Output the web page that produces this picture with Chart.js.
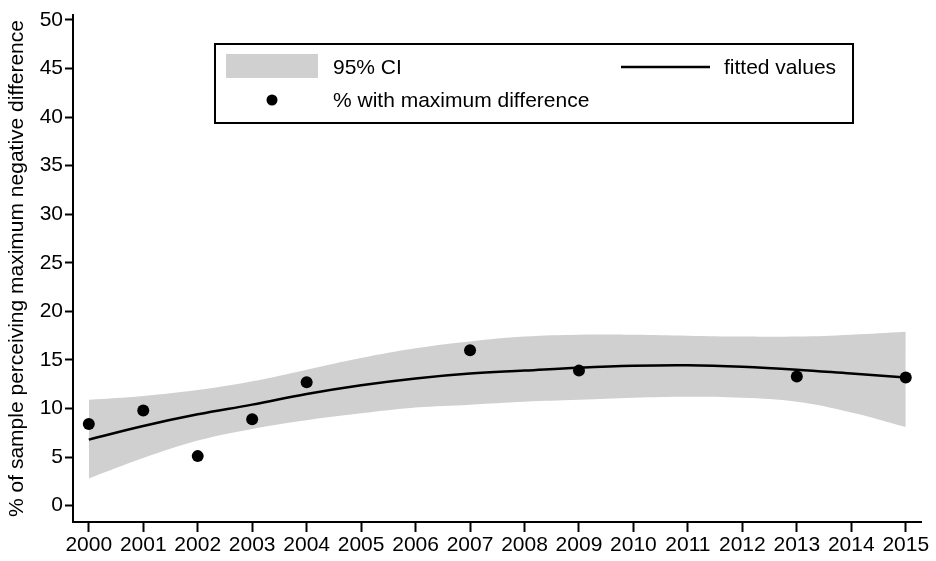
<!DOCTYPE html>
<html>
<head>
<meta charset="utf-8">
<script src="https://cdn.jsdelivr.net/npm/chart.js@4/dist/chart.umd.min.js"></script>
<style>
  html, body { margin: 0; padding: 0; background: #fff; }
  #wrap { width: 936px; height: 561px; }
</style>
</head>
<body>
<div id="wrap"><canvas id="chart"></canvas></div>
<script>
// fitted curve and 95% CI, one value per year
const years = [2000, 2001, 2002, 2003, 2004, 2005, 2006, 2007, 2008, 2009, 2010, 2011, 2012, 2013, 2014, 2015];
const fitted = [6.8, 8.2, 9.4, 10.4, 11.5, 12.4, 13.1, 13.6, 13.9, 14.2, 14.4, 14.45, 14.3, 14.0, 13.6, 13.2];
const ciUpper = [10.9, 11.3, 11.9, 12.8, 14.0, 15.2, 16.2, 16.9, 17.4, 17.6, 17.6, 17.5, 17.4, 17.4, 17.6, 17.9];
const ciLower = [2.8, 4.9, 6.7, 7.9, 8.8, 9.5, 10.1, 10.4, 10.7, 10.9, 11.1, 11.2, 11.1, 10.7, 9.6, 8.1];

// observed points
const obsYears = [2000, 2001, 2002, 2003, 2004, 2007, 2009, 2013, 2015];
const obsValues = [8.4, 9.8, 5.1, 8.9, 12.7, 16.0, 13.9, 13.3, 13.2];

const yTicks = [0, 5, 10, 15, 20, 25, 30, 35, 40, 45, 50];

const FONT = '"Liberation Sans", Arial, Helvetica, sans-serif';
const BAND = 'rgb(208,208,208)';

const pts = (xs, ys) => xs.map((x, i) => ({ x: x, y: ys[i] }));

// stata-style legend box drawn on top of the plot
const legendBox = {
  id: 'legendBox',
  afterDraw(chart) {
    const c = chart.ctx;
    c.save();
    c.fillStyle = '#fff';
    c.fillRect(215, 44, 638, 79);
    c.strokeStyle = '#000';
    c.lineWidth = 2;
    c.strokeRect(215, 44, 638, 79);
    c.fillStyle = BAND;
    c.fillRect(226, 54, 92, 24);
    c.beginPath();
    c.moveTo(621, 67); c.lineTo(710, 67);
    c.lineWidth = 2.5;
    c.stroke();
    c.fillStyle = '#000';
    c.beginPath();
    c.arc(272, 100, 5.5, 0, Math.PI * 2);
    c.fill();
    c.font = '21px ' + FONT;
    c.textBaseline = 'middle';
    c.fillText('95% CI', 333, 68);
    c.fillText('fitted values', 724, 68);
    c.fillText('% with maximum difference', 333, 101);
    c.restore();
  }
};

new Chart(document.getElementById('chart'), {
  type: 'line',
  data: {
    datasets: [
      { type: 'scatter', label: '% with maximum difference', data: pts(obsYears, obsValues),
        pointRadius: 6, pointBackgroundColor: '#000', pointBorderWidth: 0, showLine: false },
      { label: 'fitted values', data: pts(years, fitted), borderColor: '#000', borderWidth: 2.5,
        pointRadius: 0, tension: 0.4, fill: false },
      { label: '95% CI', data: pts(years, ciUpper), borderWidth: 0, borderColor: BAND,
        backgroundColor: BAND, pointRadius: 0, tension: 0.4, fill: '+1' },
      { label: 'ci lower', data: pts(years, ciLower), borderWidth: 0, borderColor: BAND,
        pointRadius: 0, tension: 0.4, fill: false }
    ]
  },
  options: {
    responsive: true,
    maintainAspectRatio: false,
    animation: false,
    layout: { padding: { left: 0, right: 15, top: 15, bottom: 0 } },
    plugins: {
      legend: { display: false },
      tooltip: { enabled: false },
      filler: { drawTime: 'beforeDatasetsDraw' }
    },
    scales: {
      x: {
        type: 'linear', min: 1999.71, max: 2015.28,
        afterBuildTicks: s => { s.ticks = years.map(v => ({ value: v })); },
        afterFit: s => { s.height = 39; },
        grid: { display: true, drawOnChartArea: false, tickLength: 10, tickWidth: 2, tickColor: '#000' },
        border: { display: true, color: '#000', width: 2 },
        ticks: { color: '#000', padding: 1, maxRotation: 0, autoSkip: false,
          font: { family: FONT, size: 21 }, callback: v => String(v) }
      },
      y: {
        min: -1.68, max: 50.5,
        afterBuildTicks: s => { s.ticks = yTicks.map(v => ({ value: v })); },
        afterFit: s => { s.width = 73; },
        grid: { display: true, drawOnChartArea: false, tickLength: 8, tickWidth: 2, tickColor: '#000' },
        border: { display: true, color: '#000', width: 2 },
        ticks: { color: '#000', padding: 2, font: { family: FONT, size: 21 } },
        title: { display: true, text: '% of sample perceiving maximum negative difference',
          color: '#000', font: { family: FONT, size: 21 }, padding: { top: 5, bottom: 0 } }
      }
    }
  },
  plugins: [legendBox]
});
</script>
</body>
</html>
